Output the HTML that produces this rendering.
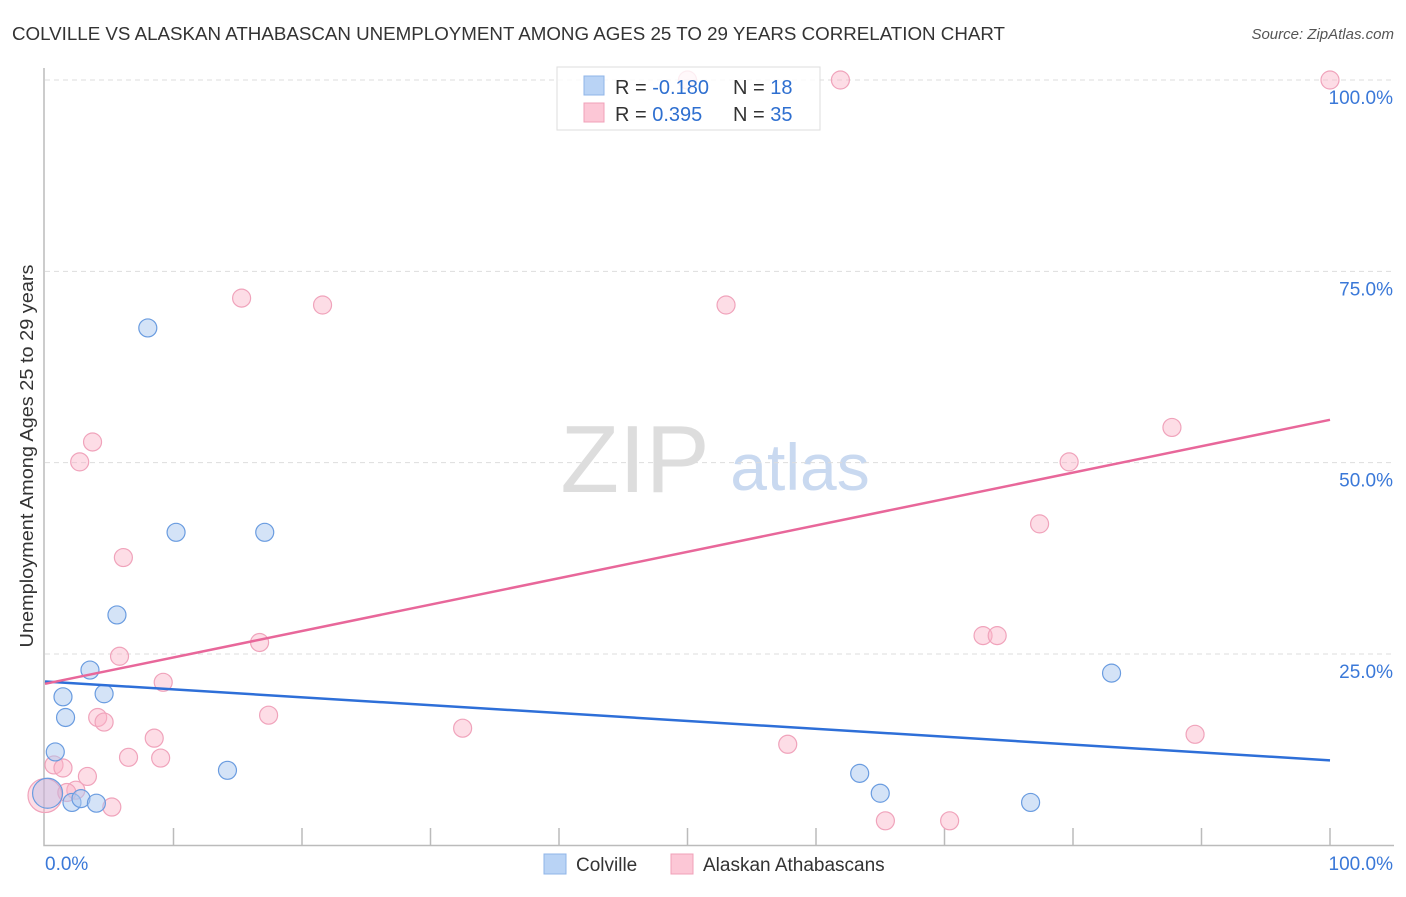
<!DOCTYPE html>
<html><head><meta charset="utf-8"><style>
body{margin:0;background:#fff;font-family:"Liberation Sans",sans-serif;}
svg text{font-family:"Liberation Sans",sans-serif;}
</style></head><body>
<svg id="c" width="1406" height="892">
<text x="12" y="40" font-size="18" fill="#333" textLength="993" lengthAdjust="spacingAndGlyphs">COLVILLE VS ALASKAN ATHABASCAN UNEMPLOYMENT AMONG AGES 25 TO 29 YEARS CORRELATION CHART</text>
<text x="1394" y="39" font-size="15" fill="#555" font-style="italic" text-anchor="end">Source: ZipAtlas.com</text>
<text x="33" y="456" font-size="18" fill="#333" text-anchor="middle" textLength="383" lengthAdjust="spacingAndGlyphs" transform="rotate(-90 33 456)">Unemployment Among Ages 25 to 29 years</text>
<text x="635" y="492" font-size="96" fill="#ddd" font-family="Liberation Serif" text-anchor="middle">ZIP</text>
<text x="800" y="490" font-size="66" fill="#c9d9f0" text-anchor="middle">atlas</text>
<g id="grid"></g><g id="marks"></g>
<g>
<rect x="557" y="67" width="263" height="63" fill="rgba(255,255,255,0.8)" stroke="#ddd"/>
<rect x="584" y="76" width="20" height="19" fill="#b9d3f5" stroke="#8fb5e8"/>
<rect x="584" y="103" width="20" height="19" fill="#fcc7d6" stroke="#f0a0b8"/>
<text x="615" y="94" font-size="20" fill="#333">R = <tspan fill="#2e6fd0">-0.180</tspan></text>
<text x="733" y="94" font-size="20" fill="#333">N = <tspan fill="#2e6fd0"> 18</tspan></text>
<text x="615" y="121" font-size="20" fill="#333">R = <tspan fill="#2e6fd0"> 0.395</tspan></text>
<text x="733" y="121" font-size="20" fill="#333">N = <tspan fill="#2e6fd0">35</tspan></text>
</g>
<g>
<rect x="544" y="854" width="22" height="20" fill="#b9d3f5" stroke="#8fb5e8"/>
<text x="576" y="871" font-size="19" fill="#333">Colville</text>
<rect x="671" y="854" width="22" height="20" fill="#fcc7d6" stroke="#f0a0b8"/>
<text x="703" y="871" font-size="19" fill="#333">Alaskan Athabascans</text>
</g>
<text x="45" y="870" font-size="19" fill="#3a78d8">0.0%</text>
<text x="1393" y="870" font-size="19" fill="#3a78d8" text-anchor="end">100.0%</text>
</svg>
<script>
const blueX=[8.0,10.2,17.1,5.6,3.5,1.4,4.6,1.6,0.8,14.2,2.1,2.8,4.0,63.4,65.0,76.7,83.0,0.2];
const blueY=[67.6,40.9,40.9,30.1,22.9,19.4,19.8,16.7,12.2,9.8,5.6,6.1,5.5,9.4,6.8,5.6,22.5,6.8];
const pinkX=[50.0,61.9,100,15.3,21.6,53.0,3.7,2.7,6.1,87.7,79.7,77.4,73.0,74.1,16.7,5.8,9.2,4.1,4.6,17.4,32.5,8.5,6.5,9.0,57.8,89.5,0.7,1.4,3.3,2.4,1.7,5.2,65.4,70.4,0];
const pinkY=[100,100,100,71.5,70.6,70.6,52.7,50.1,37.6,54.6,50.1,42.0,27.4,27.4,26.5,24.7,21.3,16.7,16.1,17.0,15.3,14.0,11.5,11.4,13.2,14.5,10.5,10.1,9.0,7.2,6.9,5.0,3.2,3.2,6.5];
const yTicks=[25,50,75,100];
const yTickLabels=["25.0%","50.0%","75.0%","100.0%"];
const blueTrend=[21.4,11.1];
const pinkTrend=[21.1,55.6];
const NS='http://www.w3.org/2000/svg';
const sx=v=>45+v*12.85, sy=v=>845.3-v*7.653;
const grid=document.getElementById('grid'), marks=document.getElementById('marks');
function mk(p,tag,a){const e=document.createElementNS(NS,tag);for(const k in a)e.setAttribute(k,a[k]);p.appendChild(e);return e;}
yTicks.forEach((t,i)=>{
 const l=mk(grid,'line',{x1:45,x2:1394,y1:sy(t),y2:sy(t),stroke:'#ddd','stroke-dasharray':'5,4'});
 
 
 const tx=mk(grid,'text',{x:1393,y:sy(t)+24,'font-size':19,fill:'#3a78d8','text-anchor':'end'});
 tx.textContent=yTickLabels[i];
 
 
});
const ax=mk(grid,'path',{d:'M44,68V845.5H1394',fill:'none',stroke:'#bbb','stroke-width':1.5});


for(let k=1;k<=10;k++){
 const t=mk(grid,'line',{x1:45+128.5*k,x2:45+128.5*k,y1:828,y2:845,stroke:'#bbb','stroke-width':1.5});
 
 
}
function dot(x,y,r,fill,stroke,name){
 const c=mk(marks,'circle',{cx:sx(x),cy:sy(y),r:r,fill:fill,stroke:stroke,'stroke-width':1.2});
 
 
}
pinkX.forEach((x,i)=>dot(x,pinkY[i],i===pinkX.length-1?17:9,'rgba(250,180,200,0.45)','#f0a3bb','athabascan-point'));
blueX.forEach((x,i)=>dot(x,blueY[i],i===blueX.length-1?15:9,i===blueX.length-1?'rgba(170,180,230,0.35)':'rgba(170,200,240,0.5)','#6a9ce0','colville-point'));
const bl=mk(marks,'line',{x1:sx(0),x2:sx(100),y1:sy(blueTrend[0]),y2:sy(blueTrend[1]),stroke:'#2e6fd8','stroke-width':2.5});


const pl=mk(marks,'line',{x1:sx(0),x2:sx(100),y1:sy(pinkTrend[0]),y2:sy(pinkTrend[1]),stroke:'#e8679a','stroke-width':2.5});


</script>
</body></html>
